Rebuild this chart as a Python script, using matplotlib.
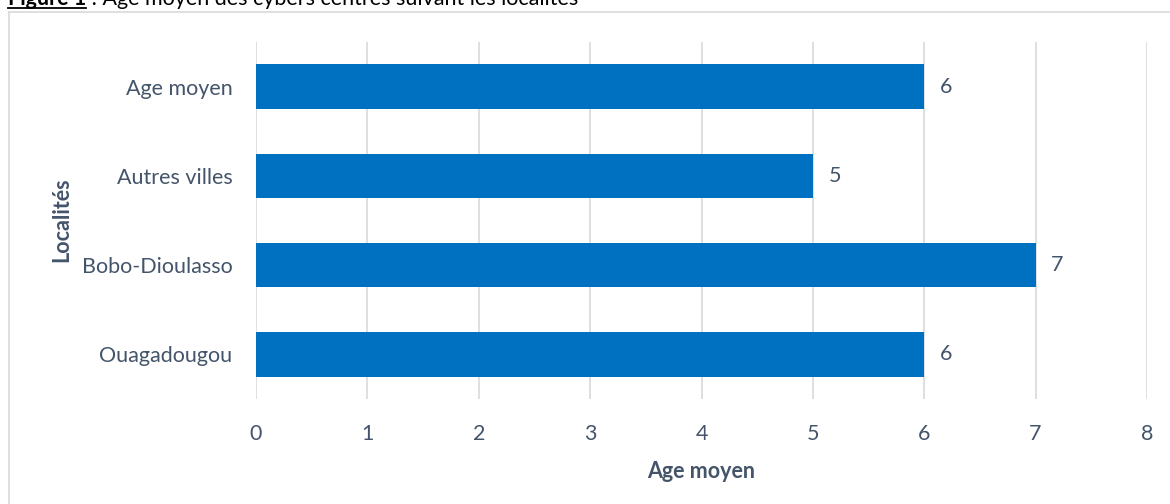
import matplotlib.pyplot as plt
from matplotlib.lines import Line2D

localites = ["Ouagadougou", "Bobo-Dioulasso", "Autres villes", "Age moyen"]
age_moyen = [6, 7, 5, 6]
x_ticks = [0, 1, 2, 3, 4, 5, 6, 7, 8]

BAR = "#0070C0"
TXT = "#44546A"
GRID = "#D9DDE3"
FS = 15.5

plt.rcParams['font.family'] = ['Lato', 'DejaVu Sans']

W, H = 1170, 504
fig = plt.figure(figsize=(W / 100, H / 100), dpi=100)
ax = fig.add_axes([256 / W, 1 - 399 / H, (1147 - 256) / W, (399 - 42) / H])

ypos = range(len(localites))
ax.barh(ypos, age_moyen, height=0.5, color=BAR, zorder=3)
for y, v in zip(ypos, age_moyen):
    ax.text(v + 0.14, y, str(v), va="center", ha="left", fontsize=FS, color=TXT)

ax.set_xlim(0, 8)
ax.set_ylim(-0.5, 3.5)
ax.set_xticks(x_ticks)
ax.set_yticks(list(ypos))
ax.set_yticklabels(localites)
ax.tick_params(axis="both", length=0, labelsize=FS, labelcolor=TXT)
ax.tick_params(axis="x", pad=18)
ax.tick_params(axis="y", pad=17)
ax.grid(axis="x", color=GRID, linewidth=1.3, zorder=0)
for s in ax.spines.values():
    s.set_visible(False)

ax.set_xlabel("Age moyen", fontsize=FS, fontweight="bold", color=TXT, labelpad=12)
fig.text(62 / W, 1 - 220 / H, "Localités", rotation=90, ha="center", va="center",
         fontsize=FS, fontweight="bold", color=TXT)

# frame of the chart area
fig.add_artist(Line2D([9 / W, 1], [1 - 12 / H, 1 - 12 / H], color="#D9D9D9", linewidth=1.2))
fig.add_artist(Line2D([9 / W, 9 / W], [0, 1 - 12 / H], color="#D9D9D9", linewidth=1.2))

# title, cut at the top of the picture
base_y = 1 - 5 / H
t1 = fig.text(8 / W, base_y, "Figure 1", fontsize=15.5, fontweight="bold", color="black", va="baseline")
fig.canvas.draw()
bb = t1.get_window_extent()
fig.add_artist(Line2D([bb.x0 / W, bb.x1 / W], [1 - 8 / H, 1 - 8 / H], color="black", linewidth=1.3))
fig.text(bb.x1 / W, base_y, " : Age moyen des cybers centres suivant les localités",
         fontsize=15.5, color="black", va="baseline")

fig.savefig("out.png", dpi=100)
